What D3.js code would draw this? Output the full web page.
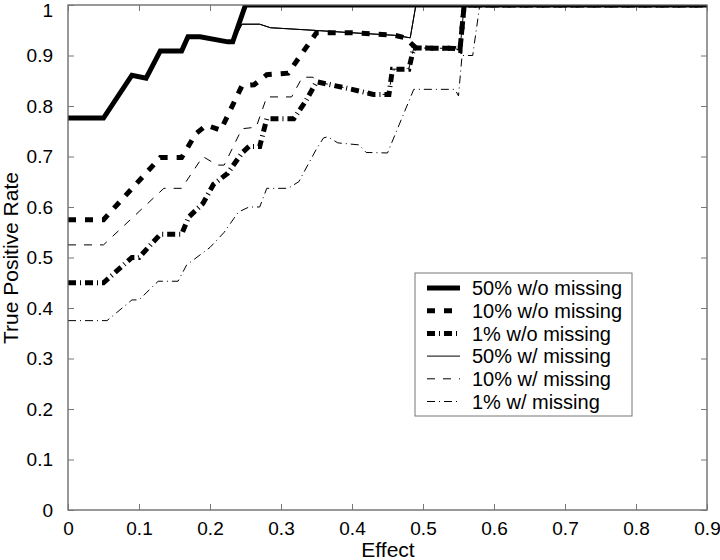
<!DOCTYPE html>
<html>
<head>
<meta charset="utf-8">
<script src="https://cdn.jsdelivr.net/npm/d3@7/dist/d3.min.js"></script>
<style>
  html, body { margin: 0; padding: 0; background: #fff; }
  svg { display: block; font-family: "Liberation Sans", Arial, Helvetica, sans-serif; }
</style>
</head>
<body>
<svg id="chart" width="720" height="560"></svg>
<script>
// ---- data ----
const xTicks = [0, 0.1, 0.2, 0.3, 0.4, 0.5, 0.6, 0.7, 0.8, 0.9];
const yTicks = [0, 0.1, 0.2, 0.3, 0.4, 0.5, 0.6, 0.7, 0.8, 0.9, 1];
const seriesNames = ["50% w/o missing", "10% w/o missing", "1% w/o missing",
                     "50% w/ missing", "10% w/ missing", "1% w/ missing"];

const s50wo = [[0,0.776],[0.05,0.776],[0.09,0.861],[0.11,0.855],[0.13,0.909],[0.16,0.909],
  [0.169,0.937],[0.186,0.937],[0.225,0.927],[0.232,0.927],[0.25,1],[0.9,1]];
const s10wo = [[0,0.575],[0.05,0.575],[0.13,0.698],[0.16,0.698],[0.18,0.745],[0.195,0.762],
  [0.215,0.752],[0.245,0.84],[0.262,0.842],[0.28,0.862],[0.31,0.865],[0.35,0.945],
  [0.40,0.945],[0.46,0.94],[0.475,0.935],[0.49,0.915],[0.545,0.914],[0.552,0.91],[0.558,1],[0.9,1]];
const s1wo = [[0,0.45],[0.05,0.45],[0.09,0.5],[0.1,0.5],[0.13,0.546],[0.16,0.546],[0.17,0.58],
  [0.19,0.607],[0.205,0.645],[0.225,0.667],[0.245,0.707],[0.255,0.72],[0.27,0.72],[0.28,0.775],
  [0.318,0.775],[0.335,0.81],[0.35,0.848],[0.37,0.842],[0.40,0.833],[0.43,0.823],[0.452,0.823],
  [0.457,0.873],[0.48,0.873],[0.487,0.915],[0.545,0.914],[0.552,0.91],[0.558,1],[0.9,1]];
const s50w = [[0,0.776],[0.05,0.776],[0.09,0.861],[0.11,0.855],[0.13,0.909],[0.16,0.909],
  [0.169,0.937],[0.186,0.937],[0.225,0.927],[0.232,0.927],[0.245,0.962],[0.27,0.962],
  [0.285,0.955],[0.345,0.95],[0.40,0.945],[0.46,0.94],[0.482,0.935],[0.49,1],[0.9,1]];
const s10w = [[0,0.525],[0.05,0.525],[0.135,0.637],[0.16,0.637],[0.19,0.70],[0.21,0.683],
  [0.22,0.683],[0.245,0.755],[0.265,0.758],[0.28,0.818],[0.315,0.818],[0.33,0.857],
  [0.345,0.857],[0.35,0.848],[0.37,0.842],[0.40,0.833],[0.43,0.823],[0.452,0.823],
  [0.457,0.873],[0.48,0.873],[0.487,0.915],[0.545,0.914],[0.552,0.91],[0.558,1],[0.9,1]];
const s1w = [[0,0.375],[0.055,0.375],[0.09,0.416],[0.10,0.416],[0.127,0.453],[0.155,0.453],
  [0.167,0.485],[0.2,0.52],[0.22,0.55],[0.24,0.59],[0.255,0.6],[0.27,0.6],[0.28,0.637],
  [0.31,0.637],[0.325,0.65],[0.35,0.715],[0.36,0.737],[0.366,0.739],[0.38,0.727],[0.41,0.723],
  [0.42,0.708],[0.45,0.707],[0.487,0.833],[0.545,0.833],[0.55,0.82],[0.555,0.9],[0.57,0.9],
  [0.58,1],[0.9,1]];

const seriesData = [s50wo, s10wo, s1wo, s50w, s10w, s1w];
const styles = [
  {w: 5, dash: null},
  {w: 5, dash: "8,9"},
  {w: 5, dash: "8,4,1,4"},
  {w: 1, dash: null},
  {w: 1, dash: "8,8"},
  {w: 1, dash: "8,4,1,4"}
];

// ---- layout ----
const svg = d3.select("#chart");
const L = 68, R = 707, T = 5, B = 510;
const x = d3.scaleLinear().domain([0, 0.9]).range([L, R]);
const y = d3.scaleLinear().domain([0, 1]).range([B, T]);
const axisColor = "#777";
const FONT = "'Liberation Sans', Arial, Helvetica, sans-serif";

svg.append("defs").append("clipPath").attr("id", "clip")
  .append("rect").attr("x", L).attr("y", T).attr("width", R - L).attr("height", B - T);

svg.append("rect").attr("x", L).attr("y", T).attr("width", R - L).attr("height", B - T)
  .attr("fill", "#fff").attr("stroke", axisColor).attr("stroke-width", 1);

const tickLen = 6;
const gx = svg.append("g").attr("transform", `translate(0,${B})`)
  .call(d3.axisBottom(x).tickValues(xTicks).tickSize(-tickLen).tickPadding(tickLen + 6)
    .tickFormat(d => d3.format("")(d)));
const gy = svg.append("g").attr("transform", `translate(${L},0)`)
  .call(d3.axisLeft(y).tickValues(yTicks).tickSize(-tickLen).tickPadding(tickLen + 9)
    .tickFormat(d => d3.format("")(d)));
const gxt = svg.append("g").attr("transform", `translate(0,${T})`)
  .call(d3.axisTop(x).tickValues(xTicks).tickSize(-tickLen).tickFormat(""));
const gyr = svg.append("g").attr("transform", `translate(${R},0)`)
  .call(d3.axisRight(y).tickValues(yTicks).tickSize(-tickLen).tickFormat(""));
[gx, gy, gxt, gyr].forEach(g => {
  g.select(".domain").remove();
  g.selectAll(".tick line").attr("stroke", axisColor);
  g.selectAll("text").attr("fill", "#000").attr("font-size", 19).attr("font-family", FONT);
});
// keep the top label "1" inside the picture
gy.selectAll(".tick").filter(d => d === 1).select("text").attr("dy", "0.6em");

// lines
const line = d3.line().x(d => x(d[0])).y(d => y(d[1]));
const gLines = svg.append("g").attr("clip-path", "url(#clip)");
[5, 4, 3, 2, 1, 0].forEach(i => {
  gLines.append("path").datum(seriesData[i]).attr("d", line)
    .attr("fill", "none").attr("stroke", "#000")
    .attr("stroke-width", styles[i].w)
    .attr("stroke-linejoin", "miter")
    .attr("stroke-dasharray", styles[i].dash);
});
gLines.append("path").datum(s50w).attr("d", line)
  .attr("fill", "none").attr("stroke", "#000").attr("stroke-width", 1);

svg.append("rect").attr("x", L).attr("y", T).attr("width", R - L).attr("height", B - T)
  .attr("fill", "none").attr("stroke", axisColor).attr("stroke-width", 1);

// axis labels
svg.append("text").attr("x", 388).attr("y", 557).attr("text-anchor", "middle")
  .attr("font-size", 21).attr("font-family", FONT).text("Effect");
svg.append("text").attr("transform", `translate(18,258) rotate(-90)`)
  .attr("text-anchor", "middle").attr("font-size", 21).attr("font-family", FONT)
  .text("True Positive Rate");

// legend
const lg = svg.append("g");
lg.append("rect").attr("x", 415).attr("y", 273).attr("width", 217).attr("height", 143)
  .attr("fill", "#fff").attr("stroke", axisColor).attr("stroke-width", 1);
seriesNames.forEach((name, i) => {
  const yy = 288 + i * 22.7;
  lg.append("line").attr("x1", 427).attr("x2", 460).attr("y1", yy).attr("y2", yy)
    .attr("stroke", "#000").attr("stroke-width", styles[i].w)
    .attr("stroke-dasharray", styles[i].dash);
  lg.append("text").attr("x", 472).attr("y", yy).attr("dy", "0.36em")
    .attr("font-size", 20).attr("font-family", FONT).text(name);
});
</script>
</body>
</html>
